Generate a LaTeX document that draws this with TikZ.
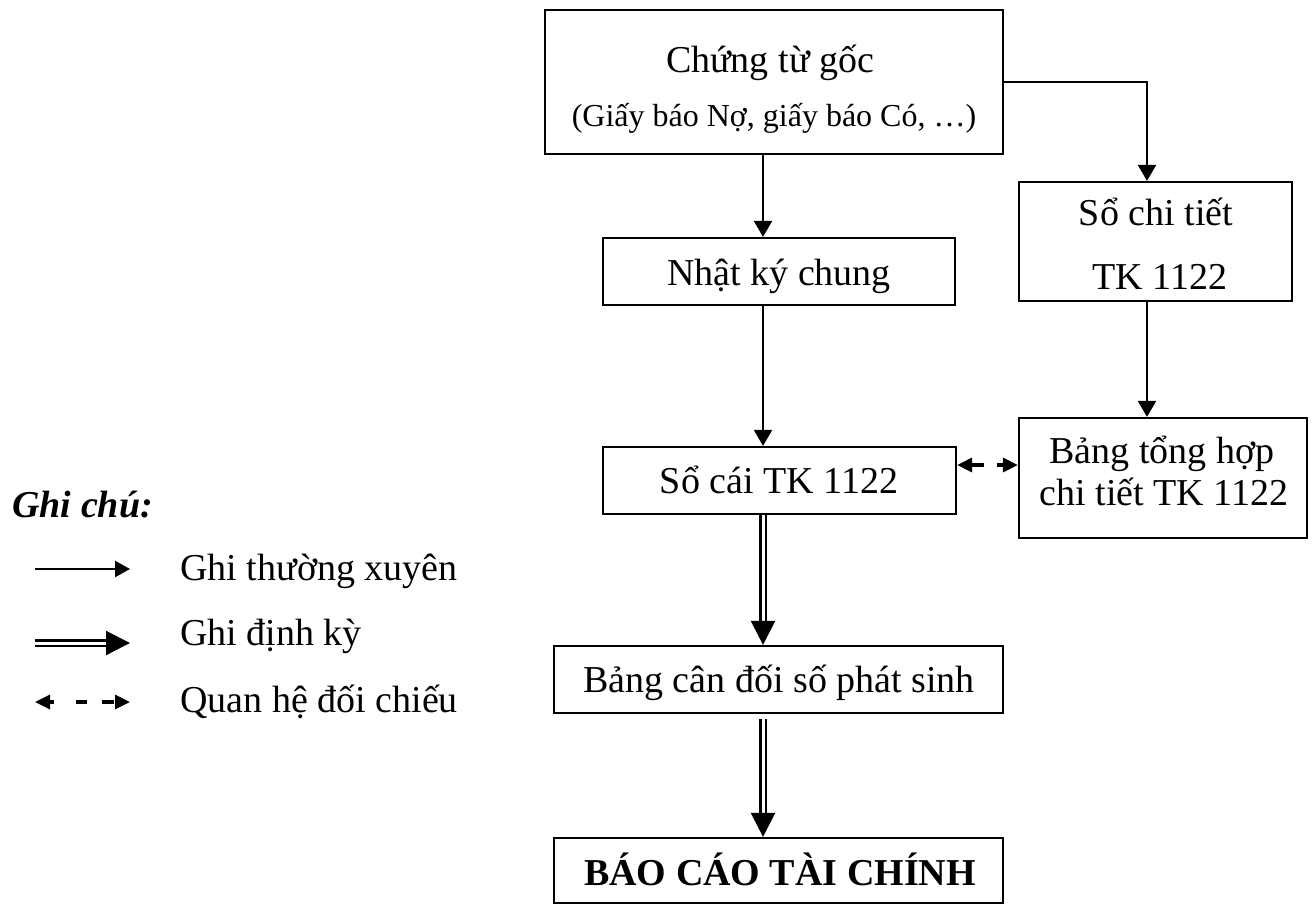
\documentclass[tikz,border=0pt]{standalone}
\usepackage{fontspec}
\setmainfont{Liberation Serif}
\usetikzlibrary{arrows.meta}
\begin{document}
\begin{tikzpicture}[x=0.5pt,y=-0.5pt,
  box/.style={draw, line width=1.1pt, inner sep=0pt},
  txt/.style={anchor=base, inner sep=0pt, font=\fontsize{19}{23}\selectfont},
  small/.style={anchor=base, inner sep=0pt, font=\fontsize{16}{19}\selectfont},
  lgd/.style={anchor=base west, inner sep=0pt, font=\fontsize{19}{23}\selectfont},
  arr/.style={line width=1.1pt, -{Triangle[length=8pt,width=9pt]}},
  dbl/.style={double, double distance=1.5pt, line width=1.1pt, -{Triangle[length=12pt,width=12pt]}},
  cmp/.style={line width=1.6pt, {Triangle[length=7.5pt,width=7pt]}-{Triangle[length=7.5pt,width=7pt]}}]
\useasboundingbox (0,0) rectangle (1315,905);

% boxes of the flow
\node[box, minimum width=229pt,   minimum height=72pt]   (ctg)  at (774,82) {};
\node[box, minimum width=176pt,   minimum height=33.5pt] (nkc)  at (779,271.5) {};
\node[box, minimum width=136.5pt, minimum height=59.5pt] (sct)  at (1155.5,241.5) {};
\node[box, minimum width=176.5pt, minimum height=33.5pt] (sc)   at (779.5,480.5) {};
\node[box, minimum width=144pt,   minimum height=60pt]   (bth)  at (1163,478) {};
\node[box, minimum width=224.5pt, minimum height=33.5pt] (bcd)  at (778.5,679.5) {};
\node[box, minimum width=224.5pt, minimum height=32.5pt] (bctc) at (778.5,870.5) {};

% box texts
\node[txt]   (ctg-t1)  at (770,72)   {Chứng từ gốc};
\node[small] (ctg-t2)  at (774,126)  {(Giấy báo Nợ, giấy báo Có, …)};
\node[txt]   (nkc-t)   at (779,285)  {Nhật ký chung};
\node[txt]   (sct-t1)  at (1156,225) {Sổ chi tiết};
\node[txt]   (sct-t2)  at (1160,289) {TK 1122};
\node[txt]   (sc-t)    at (779,493)  {Sổ cái TK 1122};
\node[txt]   (bth-t1)  at (1162,463) {Bảng tổng hợp};
\node[txt]   (bth-t2)  at (1164,505) {chi tiết TK 1122};
\node[txt]   (bcd-t)   at (779,692)  {Bảng cân đối số phát sinh};
\node[txt, font=\fontsize{19}{23}\selectfont\bfseries] (bctc-t) at (780,885) {BÁO CÁO TÀI CHÍNH};

% guide coordinates for the connector lines
\coordinate (colx) at (763,0);
\coordinate (rx)   at (1147,0);
\coordinate (cy)   at (0,465);

% connectors
\draw[arr] (ctg.south -| colx) -- (nkc.north -| colx);
\draw[arr] (ctg.east) -| (sct.north -| rx);
\draw[arr] (nkc.south -| colx) -- (sc.north -| colx);
\draw[arr] (sct.south -| rx) -- (bth.north -| rx);
\draw[cmp, dash pattern=on 6.5pt off 6.5pt on 5pt] (sc.east |- cy) -- (bth.west |- cy);
\draw[dbl] (sc.south -| colx) -- (bcd.north -| colx);
\draw[dbl, shorten <=2.5pt] (bcd.south -| colx) -- (bctc.north -| colx);

% legend
\node[lgd, font=\fontsize{19}{23}\selectfont\bfseries\itshape] (note) at (12,517) {Ghi chú:};
\coordinate (k1a) at (35,569);  \coordinate (k1b) at (130,569);
\coordinate (k2a) at (35,643);  \coordinate (k2b) at (130,643);
\coordinate (k3a) at (35,702);  \coordinate (k3b) at (130,702);
\draw[line width=1.1pt, -{Triangle[length=7.5pt,width=8pt]}] (k1a) -- (k1b);
\draw[dbl] (k2a) -- (k2b);
\draw[cmp, dash pattern=on 2.5pt off 11pt on 5.5pt off 7.5pt on 6pt] (k3a) -- (k3b);
\node[lgd] (k1t) at (180,580) {Ghi thường xuyên};
\node[lgd] (k2t) at (180,645) {Ghi định kỳ};
\node[lgd] (k3t) at (180,712) {Quan hệ đối chiếu};
\end{tikzpicture}
\end{document}
